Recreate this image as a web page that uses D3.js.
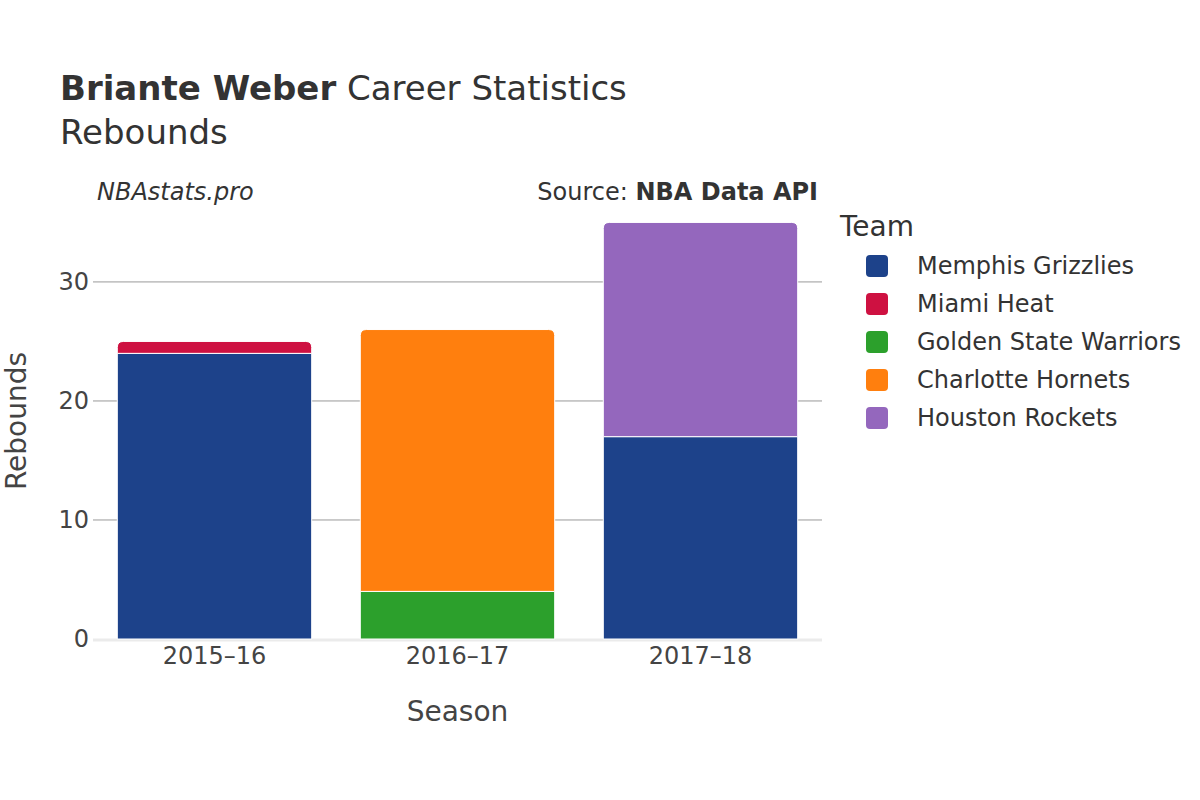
<!DOCTYPE html>
<html>
<head>
<meta charset="utf-8">
<script src="https://cdn.jsdelivr.net/npm/d3@7"></script>
<style>
  body { margin: 0; background: #fff; }
  svg { font-family: "DejaVu Sans", sans-serif; }
</style>
</head>
<body>
<svg id="chart" width="1200" height="800"></svg>
<script>
const seasons = ['2015–16', '2016–17', '2017–18'];
const teams = ['Memphis Grizzlies', 'Miami Heat', 'Golden State Warriors', 'Charlotte Hornets', 'Houston Rockets'];
const teamColors = ['#1d428a', '#ce1141', '#2ca02c', '#ff7f0e', '#9467bd'];
// rebounds per season, stacked in this order
const stints = [
  { season: '2015–16', team: 'Memphis Grizzlies', reb: 24 },
  { season: '2015–16', team: 'Miami Heat', reb: 1 },
  { season: '2016–17', team: 'Golden State Warriors', reb: 4 },
  { season: '2016–17', team: 'Charlotte Hornets', reb: 22 },
  { season: '2017–18', team: 'Memphis Grizzlies', reb: 17 },
  { season: '2017–18', team: 'Houston Rockets', reb: 18 }
];
const yTicks = [0, 10, 20, 30];

const svg = d3.select('#chart');
const margin = { left: 93, right: 378, top: 201, bottom: 161 };
const W = 1200, H = 800;
const color = d3.scaleOrdinal(teams, teamColors);

const x = d3.scaleBand()
  .domain(seasons)
  .range([margin.left, W - margin.right])
  .paddingInner(0.2)
  .paddingOuter(0.1);

const y = d3.scaleLinear()
  .domain([0, 36.8])
  .range([H - margin.bottom, margin.top]);

// grid
svg.append('g')
  .selectAll('line')
  .data(yTicks.filter(d => d > 0))
  .join('line')
  .attr('x1', margin.left)
  .attr('x2', W - margin.right)
  .attr('y1', d => y(d))
  .attr('y2', d => y(d))
  .attr('stroke', '#999')
  .attr('stroke-width', 1);

// zero line
svg.append('line')
  .attr('x1', margin.left)
  .attr('x2', W - margin.right)
  .attr('y1', y(0) + 1)
  .attr('y2', y(0) + 1)
  .attr('stroke', '#ebebeb')
  .attr('stroke-width', 3);

// stack offsets
const base = {};
stints.forEach(s => {
  s.y0 = base[s.season] || 0;
  s.y1 = s.y0 + s.reb;
  base[s.season] = s.y1;
});
const r = 6;
const barPath = (d) => {
  const x0 = x(d.season), x1 = x0 + x.bandwidth();
  const top = y(d.y1), bot = y(d.y0);
  const isTop = d.y1 === base[d.season];
  if (!isTop) return `M${x0},${bot}V${top}H${x1}V${bot}Z`;
  return `M${x0},${bot}V${top + r}Q${x0},${top} ${x0 + r},${top}H${x1 - r}Q${x1},${top} ${x1},${top + r}V${bot}Z`;
};

svg.append('g')
  .selectAll('path')
  .data(stints)
  .join('path')
  .attr('d', barPath)
  .attr('fill', d => color(d.team))
  .attr('stroke', '#fff')
  .attr('stroke-width', 1);

// axes
const yAxis = svg.append('g')
  .attr('transform', `translate(${margin.left},0)`)
  .call(d3.axisLeft(y).tickValues(yTicks).tickSize(0).tickPadding(4));
yAxis.select('.domain').remove();
yAxis.selectAll('text')
  .attr('font-size', 24)
  .attr('fill', '#444')
  .attr('font-family', '"DejaVu Sans", sans-serif');

const xAxis = svg.append('g')
  .attr('transform', `translate(0,${y(0)})`)
  .call(d3.axisBottom(x).tickSize(0).tickPadding(8));
xAxis.select('.domain').remove();
xAxis.selectAll('text')
  .attr('font-size', 24)
  .attr('fill', '#444')
  .attr('font-family', '"DejaVu Sans", sans-serif');

// axis titles
svg.append('text')
  .attr('x', (margin.left + W - margin.right) / 2)
  .attr('y', 721)
  .attr('text-anchor', 'middle')
  .attr('font-size', 28)
  .attr('fill', '#444')
  .text('Season');

svg.append('text')
  .attr('transform', `translate(26,${y(0) - (y(0) - margin.top) / 2 + 1}) rotate(-90)`)
  .attr('text-anchor', 'middle')
  .attr('font-size', 28)
  .attr('fill', '#444')
  .text('Rebounds');

// titles
const title = svg.append('text')
  .attr('x', 60)
  .attr('y', 100)
  .attr('font-size', 34)
  .attr('fill', '#333');
title.append('tspan').attr('font-weight', 'bold').text('Briante Weber');
title.append('tspan').text(' Career Statistics');

svg.append('text')
  .attr('x', 60)
  .attr('y', 144)
  .attr('font-size', 34)
  .attr('fill', '#333')
  .text('Rebounds');

svg.append('text')
  .attr('x', 97)
  .attr('y', 200)
  .attr('font-size', 24)
  .attr('font-style', 'italic')
  .attr('fill', '#333')
  .text('NBAstats.pro');

const src = svg.append('text')
  .attr('x', 818)
  .attr('y', 200)
  .attr('text-anchor', 'end')
  .attr('font-size', 24)
  .attr('fill', '#333');
src.append('tspan').text('Source: ');
src.append('tspan').attr('font-weight', 'bold').text('NBA Data API');

// legend
svg.append('text')
  .attr('x', 840)
  .attr('y', 236)
  .attr('font-size', 28)
  .attr('fill', '#333')
  .text('Team');

const legend = svg.append('g')
  .selectAll('g')
  .data(teams)
  .join('g')
  .attr('transform', (d, i) => `translate(866,${266 + i * 38})`);
legend.append('rect')
  .attr('x', 0)
  .attr('y', -11)
  .attr('width', 22)
  .attr('height', 22)
  .attr('rx', 4)
  .attr('fill', d => color(d));
legend.append('text')
  .attr('x', 51)
  .attr('y', 8)
  .attr('font-size', 24)
  .attr('fill', '#333')
  .text(d => d);
</script>
</body>
</html>
